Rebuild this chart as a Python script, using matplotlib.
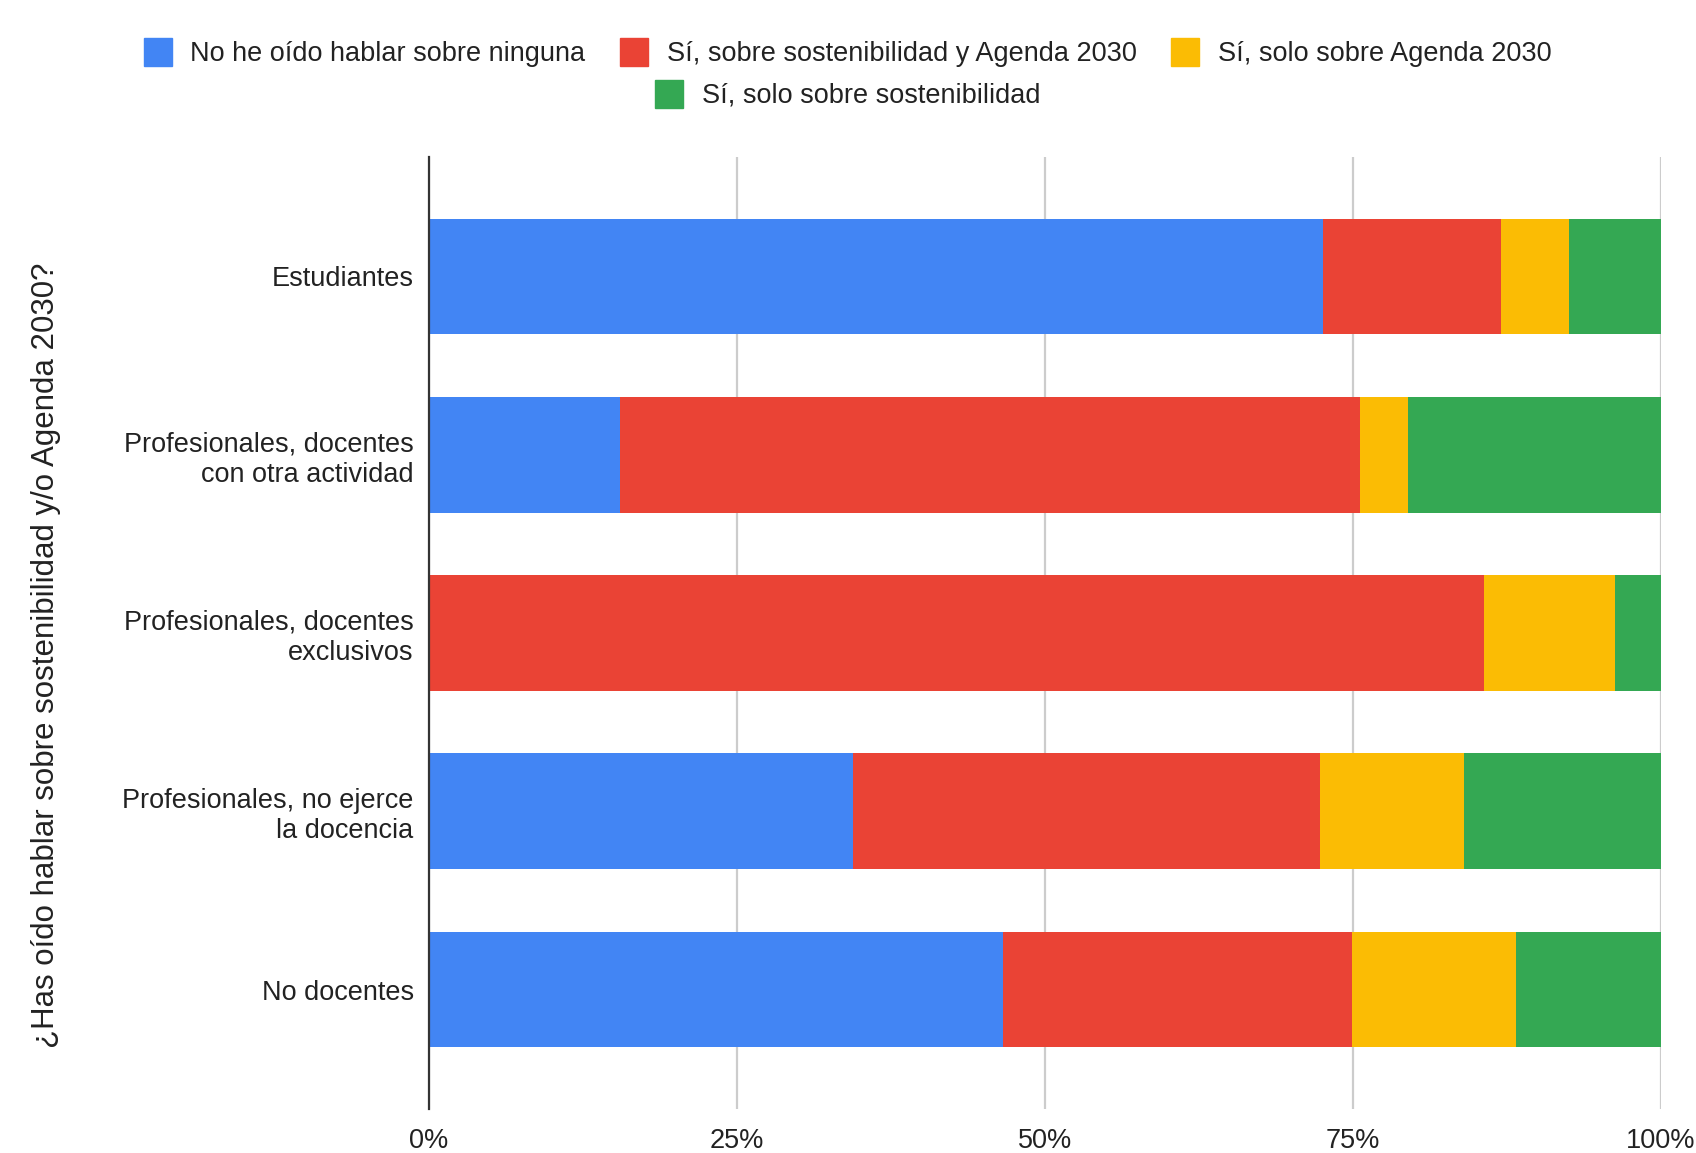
import matplotlib
matplotlib.use("Agg")
import matplotlib.pyplot as plt
from matplotlib.lines import Line2D
import numpy as np

plt.rcParams['font.family'] = ['Liberation Sans', 'DejaVu Sans']

categories = ["Estudiantes",
              "Profesionales, docentes\ncon otra actividad",
              "Profesionales, docentes\nexclusivos",
              "Profesionales, no ejerce\nla docencia",
              "No docentes"]
series_names = ["No he oído hablar sobre ninguna",
                "Sí, sobre sostenibilidad y Agenda 2030",
                "Sí, solo sobre Agenda 2030",
                "Sí, solo sobre sostenibilidad"]
no_ninguna = [72.6, 15.5, 0.0, 34.4, 46.6]
si_ambas = [14.4, 60.1, 85.6, 37.9, 28.3]
solo_agenda = [5.5, 3.9, 10.7, 11.7, 13.3]
solo_sost = [7.5, 20.5, 3.7, 16.0, 11.8]
tick_labels = ["0%", "25%", "50%", "75%", "100%"]
ticks = [0, 25, 50, 75, 100]
colors = ["#4285F4", "#EA4335", "#FBBC04", "#34A853"]

series = [no_ninguna, si_ambas, solo_agenda, solo_sost]

fig = plt.figure(figsize=(16.96, 11.53), dpi=100)
ax = fig.add_axes([0.2529, 0.0382, 0.9794 - 0.2529, 0.8638 - 0.0382])

y = np.arange(len(categories))
left = np.zeros(len(categories))
for vals, col, name in zip(series, colors, series_names):
    vals = np.array(vals)
    ax.barh(y, vals, left=left, height=0.65, color=col, label=name, zorder=3, linewidth=0)
    left += vals

ax.set_xlim(0, 100)
ax.set_ylim(4.67, -0.67)
ax.set_xticks(ticks)
ax.set_xticklabels(tick_labels, fontsize=19.5, color="#222222")
ax.set_yticks(y)
ax.set_yticklabels(categories, fontsize=19.5, color="#222222")
ax.tick_params(axis='x', length=0, pad=14)
ax.tick_params(axis='y', length=0, pad=11)
for s in ['top', 'right', 'bottom']:
    ax.spines[s].set_visible(False)
ax.spines['left'].set_color('#333333')
ax.spines['left'].set_linewidth(1.6)
ax.spines['left'].set_zorder(4)
ax.grid(axis='x', color='#cccccc', linewidth=1.6, zorder=0)
ax.set_axisbelow(True)

ax.set_ylabel("¿Has oído hablar sobre sostenibilidad y/o Agenda 2030?", fontsize=22.5,
              color="#222222", va='center')
ax.yaxis.set_label_coords((46 - 429) / 1232, 0.477)

def handle(c):
    return Line2D([0], [0], marker='s', linestyle='none', markersize=20,
                  markerfacecolor=c, markeredgecolor=c)

h = [handle(c) for c in colors]
leg1 = fig.legend(h[:3], series_names[:3], loc='center', bbox_to_anchor=(0.5, 1 - 54/1153),
                  ncol=3, frameon=False, fontsize=19.5, handlelength=1.0,
                  handletextpad=0.7, columnspacing=1.3, borderpad=0, labelcolor="#222222")
leg2 = fig.legend(h[3:], series_names[3:], loc='center', bbox_to_anchor=(0.5, 1 - 96/1153),
                  ncol=1, frameon=False, fontsize=19.5, handlelength=1.0,
                  handletextpad=0.7, borderpad=0, labelcolor="#222222")

fig.savefig("out.png", dpi=100)
